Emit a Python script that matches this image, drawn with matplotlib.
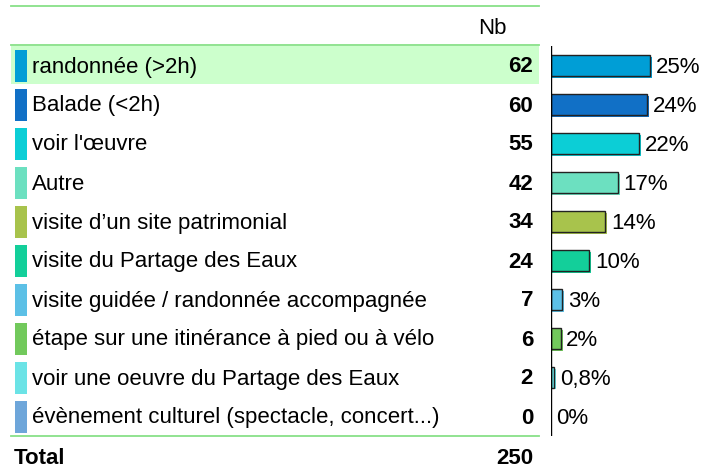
import matplotlib.pyplot as plt
from matplotlib.patches import Rectangle

categories = [
    "randonnée (>2h)",
    "Balade (<2h)",
    "voir l'œuvre",
    "Autre",
    "visite d\u2019un site patrimonial",
    "visite du Partage des Eaux",
    "visite guidée / randonnée accompagnée",
    "étape sur une itinérance à pied ou à vélo",
    "voir une oeuvre du Partage des Eaux",
    "évènement culturel (spectacle, concert...)",
]
counts = [62, 60, 55, 42, 34, 24, 7, 6, 2, 0]
colors = ["#009ed6", "#1170c6", "#0cced6", "#6ce0c0", "#a8c34c",
          "#13cf9a", "#5cc0e6", "#72c95c", "#6be3e6", "#6ea6da"]
# number of respondents (several answers allowed)
total = 250

plt.rcParams["font.family"] = ["Liberation Sans", "DejaVu Sans"]

W, H = 704, 472
fig = plt.figure(figsize=(W / 100, H / 100), dpi=100)

# table part, laid out in pixel units
tab = fig.add_axes([0, 0, 1, 1])
tab.set_xlim(0, W)
tab.set_ylim(H, 0)
tab.axis("off")

row_top = 46
row_h = 39
green = "#88e088"
fs = 16
dy = 1.5  # nudge text down a little

tab.add_patch(Rectangle((11, row_top), 528, row_h - 1, color="#ccffcc", lw=0))
for y in (6, 45, 436):
    tab.plot([11, 539], [y, y], color=green, lw=1.3)
tab.text(492, 27 + dy, "Nb", ha="center", va="center", fontsize=fs)

for i, (cat, n, c) in enumerate(zip(categories, counts, colors)):
    yc = row_top + row_h * i + row_h / 2
    tab.add_patch(Rectangle((15, yc - 16), 12, 32, color=c, lw=0))
    tab.text(32, yc + dy, cat, ha="left", va="center", fontsize=fs)
    tab.text(533, yc + dy, str(n), ha="right", va="center", fontsize=fs,
             fontweight="bold")

tab.text(14, 457 + dy, "Total", ha="left", va="center", fontsize=fs,
         fontweight="bold")
tab.text(533, 457 + dy, str(total), ha="right", va="center", fontsize=fs,
         fontweight="bold")

# bar part
x0, x1 = 551, W
bx = fig.add_axes([x0 / W, 1 - 436 / H, (x1 - x0) / W, 390 / H])
px_per_count = 1.6
bx.set_xlim(0, (x1 - x0) / px_per_count)
bx.set_ylim(len(counts) - 0.5, -0.5)
bx.axis("off")
bx.axvline(0, color="black", lw=1)

ypos = list(range(len(counts)))
shift = 2 / px_per_count
bar_h = 21 / row_h
for y, n, c in zip(ypos, counts, colors):
    if n > 0:
        bx.barh(y + 1.5 / row_h, n + shift, height=bar_h, color=c, lw=0)
        bx.barh(y, n, height=bar_h, color=c, edgecolor="#222222", lw=1)
    pct = n / total * 100
    if 0 < pct < 1:
        lab = f"{pct:.1f}%".replace(".", ",")
    else:
        lab = f"{pct:.0f}%"
    bx.annotate(lab, (n + shift, y), xytext=(2.5, -1.1),
                textcoords="offset points",
                ha="left", va="center", fontsize=fs)

fig.savefig("out.png", dpi=100)
